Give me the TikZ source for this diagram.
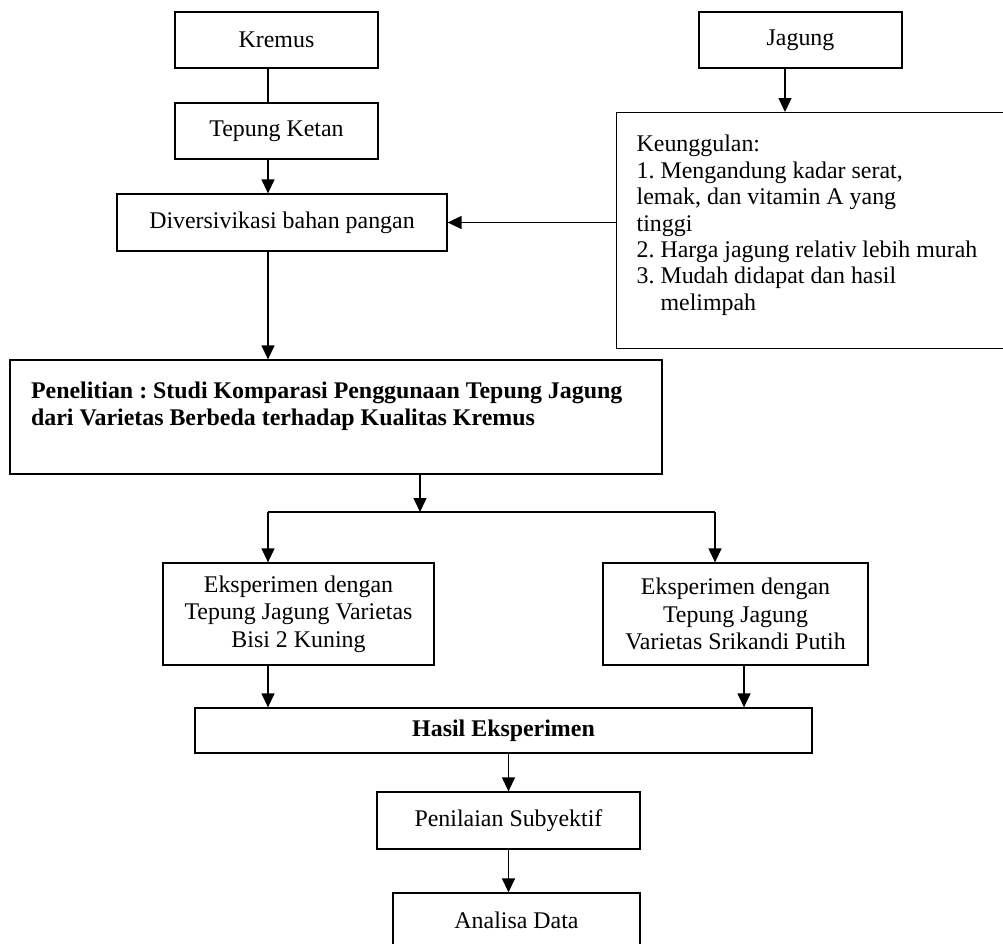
\documentclass[tikz,border=0pt]{standalone}
\usepackage{fontspec}
\setmainfont{Liberation Serif}
\frenchspacing
\usetikzlibrary{arrows.meta}
\begin{document}
\begin{tikzpicture}[x=0.02cm, y=-0.02cm,
    box/.style={draw, line width=0.75pt, inner sep=0pt, font=\fontsize{13.6}{15}\selectfont},
    arr/.style={-{Triangle[length=0.28cm, width=0.26cm]}, line width=0.75pt}]
    \useasboundingbox (0,0) rectangle (1003,943);
    \clip (0,0) rectangle (1003,943);
    \node (kremus) [box, minimum width=4.06cm, minimum height=1.12cm] at (276.5,40) {Kremus};
    \node (jagung) [box, minimum width=4.06cm, minimum height=1.12cm] at (800.5,40) {Jagung};
    \node (ketan) [box, minimum width=4.06cm, minimum height=1.12cm] at (276.5,131) {Tepung Ketan};
    \node (divers) [box, minimum width=6.6cm, minimum height=1.14cm] at (282,222.5) {Diversivikasi bahan pangan};
    \node (unggul) [box, anchor=north west, inner xsep=0.4cm, text width=7.08cm, align=flush left, minimum height=4.72cm] at (616,112)
        {Keunggulan:\\1. Mengandung kadar serat,\\lemak, dan vitamin A yang\\tinggi\\2. Harga jagung relativ lebih murah\\3. Mudah didapat dan hasil\\\hphantom{3. }melimpah\\[-6pt]\mbox{}};
    \node (penelitian) [box, inner xsep=0.42cm, text width=12.2cm, align=flush left, minimum height=2.28cm] at (336,417)
        {\bfseries Penelitian : Studi Komparasi Penggunaan Tepung Jagung\\dari Varietas Berbeda terhadap Kualitas Kremus\\\mbox{}};
    \node (eksp1) [box, text width=5.42cm, align=flush center, minimum height=2.04cm, font=\fontsize{13.6}{15.6}\selectfont] at (298.5,614)
        {Eksperimen dengan\\Tepung Jagung Varietas\\Bisi 2 Kuning};
    \node (eksp2) [box, text width=5.3cm, align=flush center, minimum height=2.04cm, font=\fontsize{13.6}{15.6}\selectfont] at (735.5,614)
        {Eksperimen dengan\\Tepung Jagung\\Varietas Srikandi Putih};
    \node (hasil) [box, minimum width=12.34cm, minimum height=0.9cm] at (503.5,730.5) {\bfseries Hasil Eksperimen};
    \node (penilaian) [box, minimum width=5.26cm, minimum height=1.14cm] at (508.5,820.5) {Penilaian Subyektif};
    \node (analisa) [box, minimum width=4.94cm, minimum height=1.1cm] at (516.5,920.5) {Analisa Data};
    \coordinate (jagungcol) at (785,90);
    \coordinate (splitM) at (420,512);
    \coordinate (splitL) at (268,512);
    \coordinate (splitR) at (715,512);
    \coordinate (mergeR) at (744,690);
    \draw [line width=0.75pt] (kremus.south -| splitL) -- (ketan.north -| splitL);
    \draw [arr] (ketan.south -| splitL) -- (divers.north -| splitL);
    \draw [arr] (jagung.south -| jagungcol) -- (unggul.north -| jagungcol);
    \draw [arr] (unggul.west |- divers.east) -- (divers.east);
    \draw [arr] (divers.south -| splitL) -- (penelitian.north -| splitL);
    \draw [arr] (penelitian.south -| splitM) -- (splitM);
    \draw [line width=0.75pt] (splitL) -- (splitR);
    \draw [arr] (splitL) -- (eksp1.north -| splitL);
    \draw [arr] (splitR) -- (eksp2.north -| splitR);
    \draw [arr] (eksp1.south -| splitL) -- (hasil.north -| splitL);
    \draw [arr] (eksp2.south -| mergeR) -- (hasil.north -| mergeR);
    \draw [arr] (hasil.south -| penilaian) -- (penilaian.north);
    \draw [arr] (penilaian.south) -- (analisa.north -| penilaian);
\end{tikzpicture}
\end{document}
